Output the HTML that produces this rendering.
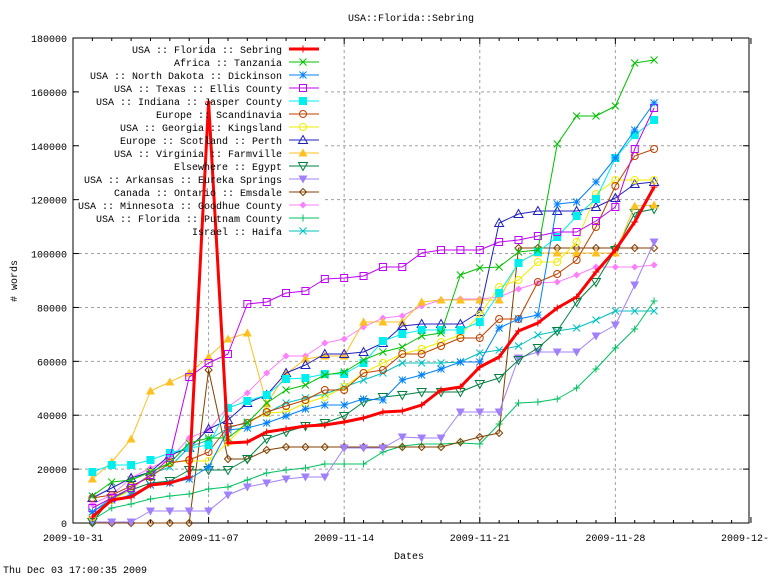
<!DOCTYPE html>
<html><head><meta charset="utf-8"><style>
html,body{margin:0;padding:0;background:#fff}
svg{display:block}
text{font-family:"Liberation Mono","DejaVu Sans Mono",monospace;font-size:10px;fill:#000}
</style></head><body>
<svg id="s" width="768" height="576" xmlns="http://www.w3.org/2000/svg"></svg>
<script>
const S=document.getElementById('s');
let h='';
const L=73,R=749,T=38,B=523;
const X=d=>L+d*19.37;
for(let k=1;k<=8;k++){const y=B-k*53.89;h+=`<line x1="${L}" y1="${y}" x2="${R}" y2="${y}" stroke="#a0a0a0" stroke-dasharray="3,3"/>`;}
for(const d of [7,14,21,28]){h+=`<line x1="${X(d)}" y1="${T}" x2="${X(d)}" y2="${B}" stroke="#a0a0a0" stroke-dasharray="3,3"/>`;}
h+=`<rect x="75" y="41" width="250" height="196" fill="#fff"/>`;
h+=`<rect x="${L}" y="${T}" width="${R-L}" height="${B-T}" fill="none" stroke="#000"/>`;
for(let k=0;k<=9;k++){const y=B-k*53.89;h+=`<line x1="${L}" y1="${y}" x2="${L+6}" y2="${y}" stroke="#000"/><line x1="${R}" y1="${y}" x2="${R-6}" y2="${y}" stroke="#000"/>`;
h+=`<text x="67" y="${y+4}" text-anchor="end">${k*20000}</text>`;}
for(let d=0;d<=35;d++){const x=X(d),len=d%7==0?6:3;h+=`<line x1="${x}" y1="${B}" x2="${x}" y2="${B-len}" stroke="#000"/><line x1="${x}" y1="${T}" x2="${x}" y2="${T+len}" stroke="#000"/>`;}
const xl=['2009-10-31','2009-11-07','2009-11-14','2009-11-21','2009-11-28','2009-12-05'];
xl.forEach((t,i)=>{h+=`<text x="${X(i*7)}" y="541" text-anchor="middle">${t}</text>`;});
h+=`<text x="411" y="21" text-anchor="middle">USA::Florida::Sebring</text>`;
h+=`<text x="409" y="559" text-anchor="middle">Dates</text>`;
h+=`<text x="3" y="573">Thu Dec 03 17:00:35 2009</text>`;
h+=`<text transform="translate(17,281) rotate(-90)" text-anchor="middle"># words</text>`;
function mk(t,x,y,c){const s=3.5;switch(t){
case'+':return `<path d="M${x-s} ${y}H${x+s}M${x} ${y-s}V${y+s}" stroke="${c}"/>`;
case'x':return `<path d="M${x-s} ${y-s}L${x+s} ${y+s}M${x-s} ${y+s}L${x+s} ${y-s}" stroke="${c}"/>`;
case'*':return `<path d="M${x-s} ${y}H${x+s}M${x} ${y-s}V${y+s}M${x-s} ${y-s}L${x+s} ${y+s}M${x-s} ${y+s}L${x+s} ${y-s}" stroke="${c}"/>`;
case'os':return `<rect x="${x-s}" y="${y-s}" width="${2*s}" height="${2*s}" fill="none" stroke="${c}"/>`;
case'fs':return `<rect x="${x-s-0.5}" y="${y-s-0.5}" width="${2*s+1}" height="${2*s+1}" fill="${c}"/>`;
case'oc':return `<circle cx="${x}" cy="${y}" r="${s}" fill="none" stroke="${c}"/>`;
case'ot':return `<path d="M${x} ${y-s-1}L${x+s+1} ${y+s}L${x-s-1} ${y+s}Z" fill="none" stroke="${c}"/>`;
case'ft':return `<path d="M${x} ${y-s-1}L${x+s+1} ${y+s}L${x-s-1} ${y+s}Z" fill="${c}"/>`;
case'oi':return `<path d="M${x} ${y+s+1}L${x+s+1} ${y-s}L${x-s-1} ${y-s}Z" fill="none" stroke="${c}"/>`;
case'fi':return `<path d="M${x} ${y+s+1}L${x+s+1} ${y-s}L${x-s-1} ${y-s}Z" fill="${c}"/>`;
case'od':return `<path d="M${x} ${y-s}L${x+s} ${y}L${x} ${y+s}L${x-s} ${y}Z" fill="none" stroke="${c}"/>`;
case'fd':return `<path d="M${x} ${y-s}L${x+s} ${y}L${x} ${y+s}L${x-s} ${y}Z" fill="${c}"/>`;}}
const series=[
['USA :: Florida :: Sebring','#ff0000','+',3,[517,500,497,485,483,477,102,443,442,432,429,426,425,422,418,412,411,405,390,387,367,357,331,323,308,297,272,250,222,187]],
['Africa :: Tanzania','#00c000','x',1,[496,482,480,472,463,443,438,438,423,403,390,385,375,372,360,352,347,336,333,275,268,267,252,250,144,116,116,106,63,60]],
['USA :: North Dakota :: Dickinson','#0080ff','*',1,[512,500,495,485,483,479,467,430,428,423,416,409,405,405,399,400,380,375,369,362,362,328,319,315,204,202,182,158,130,103]],
['USA :: Texas :: Ellis County','#c000ff','os',1,[508,498,488,475,458,377,363,354,304,302,293,291,279,278,276,267,267,253,250,250,250,242,240,236,232,232,221,207,149,108]],
['USA :: Indiana :: Jasper County','#00eeee','fs',1,[472,465,465,460,453,448,445,408,401,395,379,378,374,374,363,341,334,330,330,330,322,293,263,252,237,216,199,158,135,120]],
['Europe :: Scandinavia','#c04000','oc',1,[498,495,486,477,463,460,452,427,423,412,406,400,390,390,373,370,354,354,346,338,338,319,319,282,274,260,227,186,156,149]],
['USA :: Georgia :: Kingsland','#eeee00','oc',1,[517,500,490,473,462,461,461,442,423,413,412,403,397,387,373,363,354,349,342,335,315,287,280,262,262,242,194,180,180,180]],
['Europe :: Scotland :: Perth','#2020c0','ot',1,[498,488,478,472,455,448,429,420,403,395,373,365,354,354,352,343,326,324,324,324,312,223,214,211,211,211,207,198,184,182]],
['USA :: Virginia :: Farmville','#ffc020','ft',1,[479,462,439,391,382,373,357,339,333,404,374,359,356,356,322,322,322,302,300,300,300,300,262,253,253,253,253,253,206,205]],
['Elsewhere :: Egypt','#008040','oi',1,[522,498,490,483,481,470,470,470,459,439,432,426,423,416,402,397,395,392,392,392,384,378,360,348,331,302,282,250,213,209]],
['USA :: Arkansas :: Eureka Springs','#a080ff','fi',1,[522,522,522,511,511,511,511,495,487,483,479,477,477,448,448,448,437,438,438,412,412,412,358,352,352,352,336,325,285,242]],
['Canada :: Ontario :: Emsdale','#804000','od',1,[523,523,523,523,523,523,370,459,459,450,447,447,447,447,447,447,447,447,447,442,437,433,248,248,248,248,248,248,248,248]],
['USA :: Minnesota :: Goodhue County','#ff80ff','fd',1,[504,495,478,468,459,438,430,407,393,373,356,356,343,339,327,318,316,306,300,299,299,297,289,283,282,275,267,267,267,265]],
['USA :: Florida :: Putnam County','#00c060','+',1,[520,508,504,499,496,494,489,487,480,473,470,468,464,464,464,452,446,444,444,443,444,424,403,402,399,388,369,348,329,301]],
['Israel :: Haifa','#00c0c0','x',1,[512,498,488,474,467,447,440,428,422,413,403,398,394,387,380,373,363,363,363,362,353,350,346,335,331,328,320,311,311,311]]
];
let body='';
for(let i=series.length-1;i>=0;i--){const [n,c,m,w,ys]=series[i];
 const pts=ys.map((y,j)=>[X(j+1),y]);
 body+=`<polyline points="${pts.map(p=>p.join(',')).join(' ')}" fill="none" stroke="${c}" stroke-width="${w}" stroke-linejoin="round"/>`;
 pts.forEach(p=>body+=mk(m,p[0],p[1],c));
}
h+=body;
series.forEach((s,i)=>{const y=49+i*13;
 h+=`<text x="282" y="${y+4}" text-anchor="end">${s[0]}</text>`;
 h+=`<line x1="289" y1="${y}" x2="319" y2="${y}" stroke="${s[1]}" stroke-width="${s[3]}"/>`+mk(s[2],303,y,s[1]);
});
S.innerHTML=h;
</script>
</body></html>
